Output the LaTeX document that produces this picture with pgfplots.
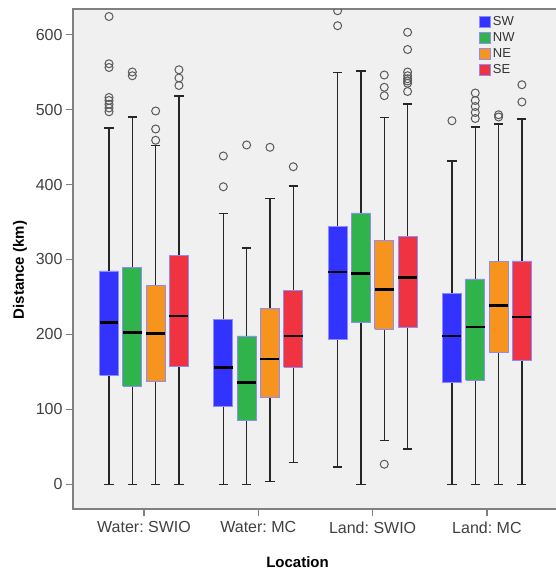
\documentclass[border=0pt]{standalone}
\usepackage{fontspec}
\setmainfont{Liberation Sans}
\usepackage{pgfplots}
\pgfplotsset{compat=1.18}
\frenchspacing
\definecolor{cSW}{HTML}{3333FF}
\definecolor{cNW}{HTML}{2FB34A}
\definecolor{cNE}{HTML}{F7941E}
\definecolor{cSE}{HTML}{EF3340}
\definecolor{cedge}{HTML}{8C8CFF}
\definecolor{bgc}{HTML}{F0F0F0}
\definecolor{axc}{HTML}{808080}
% box: position, lower whisker, Q1, median, Q3, upper whisker, colour
\newcommand{\bx}[7]{%
  \pgfmathsetmacro\bxL{#1-0.083}\pgfmathsetmacro\bxR{#1+0.083}%
  \pgfmathsetmacro\capL{#1-0.04}\pgfmathsetmacro\capR{#1+0.04}%
  \addplot[forget plot, black!85, line width=1.5pt] coordinates {(#1,#5) (#1,#6)};
  \addplot[forget plot, black!85, line width=1.5pt] coordinates {(\capL,#6) (\capR,#6)};
  \addplot[forget plot, black!85, line width=1.5pt] coordinates {(#1,#2) (#1,#3)};
  \addplot[forget plot, black!85, line width=1.5pt] coordinates {(\capL,#2) (\capR,#2)};
  \addplot[forget plot, fill=#7, draw=cedge, line width=0.8pt] coordinates {(\bxL,#3) (\bxR,#3) (\bxR,#5) (\bxL,#5) (\bxL,#3)};
  \addplot[forget plot, black, line width=2.5pt] coordinates {(\bxL,#4) (\bxR,#4)};
}
\begin{document}
\begin{tikzpicture}
\begin{axis}[
  scale only axis, width=500pt, height=500pt,
  xmin=-0.621, xmax=3.753, ymin=-32.7, ymax=634,
  axis background/.style={fill=bgc},
  axis line style={axc, line width=1.5pt},
  tick align=outside, major tick length=7pt,
  tick style={axc, line width=1.2pt},
  xtick={0,1,2,3}, xticklabels={Water: SWIO, Water: MC, Land: SWIO, Land: MC},
  ytick={0,100,...,600},
  xtick pos=left, ytick pos=left,
  /pgf/number format/assume math mode=true,
  ticklabel style={font=\fontsize{16}{18}\selectfont, text=black!75},
  xticklabel style={yshift=-2pt},
  xlabel={\textbf{Location}}, ylabel={\textbf{Distance (km)}},
  label style={font=\fontsize{15}{17}\selectfont},
  xlabel style={at={(axis description cs:0.449,-0.106)}, anchor=center},
  ylabel style={at={(axis description cs:-0.106,0.478)}, anchor=center},
  clip marker paths=true,
  legend image code/.code={\draw[#1] (0pt,-5.5pt) rectangle (11pt,5.5pt);},
  legend style={at={(axis description cs:0.806,0.99)}, anchor=north west, draw=none, fill=none,
    font=\fontsize{13}{14}\selectfont, text=black!80, row sep=4pt,
    nodes={inner xsep=2pt, inner ysep=0.5pt}},
  legend cell align=left,
]
% ---------- Water: SWIO ----------
\bx{-0.306}{0}{145.6}{215.7}{284.7}{475}{cSW}
\bx{-0.102}{0}{131.3}{202.4}{289}{490}{cNW}
\bx{0.102}{0}{138}{201}{265}{452}{cNE}
\bx{0.306}{0}{157}{224.7}{305.6}{518}{cSE}
% ---------- Water: MC ----------
\bx{0.694}{0}{103.7}{156}{220}{361.6}{cSW}
\bx{0.898}{0}{85}{135.7}{198}{315}{cNW}
\bx{1.102}{3.7}{116}{167}{235}{381}{cNE}
\bx{1.306}{29.6}{156}{198}{258.4}{398}{cSE}
% ---------- Land: SWIO ----------
\bx{1.694}{23}{193.6}{283}{343.7}{549}{cSW}
\bx{1.898}{0}{216}{281.6}{362}{551}{cNW}
\bx{2.102}{58.4}{207}{260}{325}{489.6}{cNE}
\bx{2.306}{47.3}{209}{275.8}{331}{507}{cSE}
% ---------- Land: MC ----------
\bx{2.694}{0}{135.7}{198}{255}{431}{cSW}
\bx{2.898}{0}{139}{210}{274}{476.7}{cNW}
\bx{3.102}{0}{176}{238.4}{297}{480.7}{cNE}
\bx{3.306}{0}{165}{223}{298}{487}{cSE}
% ---------- outliers ----------
\addplot[forget plot, only marks, mark=o, mark size=4pt, mark options={draw=black!65, line width=1pt}] coordinates {
 (-0.306,624) (-0.306,561) (-0.306,556) (-0.306,516) (-0.306,512) (-0.306,507) (-0.306,502) (-0.306,497)
 (-0.102,550) (-0.102,545)
 (0.102,498) (0.102,474) (0.102,459)
 (0.306,637) (0.306,553) (0.306,542) (0.306,532)
 (0.694,438) (0.694,397)
 (0.898,452.7)
 (1.102,449.6)
 (1.306,423.7)
 (1.694,631.7) (1.694,611.7)
 (2.102,546) (2.102,529.6) (2.102,518.4) (2.102,27)
 (2.306,603) (2.306,580) (2.306,550) (2.306,545) (2.306,541) (2.306,538) (2.306,535) (2.306,524)
 (2.694,485)
 (2.898,522) (2.898,512) (2.898,504) (2.898,496) (2.898,488)
 (3.102,493) (3.102,490)
 (3.306,533) (3.306,510)
};
% ---------- legend ----------
\addlegendimage{fill=cSW, draw=cedge, line width=0.8pt}
\addlegendimage{fill=cNW, draw=cedge, line width=0.8pt}
\addlegendimage{fill=cNE, draw=cedge, line width=0.8pt}
\addlegendimage{fill=cSE, draw=cedge, line width=0.8pt}
\legend{SW,NW,NE,SE}
\end{axis}
\pgfresetboundingbox
\path ([shift={(-73pt,-62pt)}]current axis.south west) rectangle ([shift={(483pt,509pt)}]current axis.south west);
\end{tikzpicture}
\end{document}
